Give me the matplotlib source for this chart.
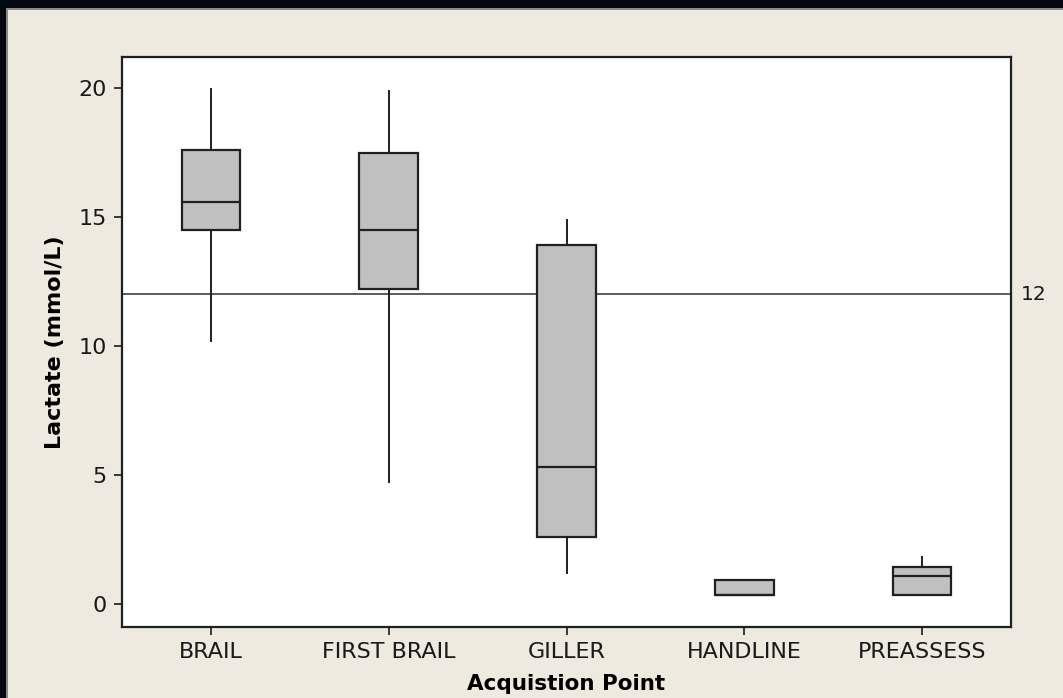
import numpy as np
import matplotlib.pyplot as plt
from matplotlib.patches import Rectangle

# values (Lactate, mmol/L)
groups = ['BRAIL', 'FIRST BRAIL', 'GILLER', 'HANDLINE', 'PREASSESS']
whis_lo = [10.2, 4.75, 1.2, 0.36, 0.36]
q1 = [14.5, 12.2, 2.6, 0.36, 0.36]
med = [15.6, 14.5, 5.3, 0.36, 1.1]
q3 = [17.6, 17.5, 13.9, 0.96, 1.45]
whis_hi = [19.95, 19.9, 14.9, 0.96, 1.83]
ref_value = 12

bg = '#eeeae0'
fig = plt.figure(figsize=(10.63, 6.98), dpi=100, facecolor=bg)

# dark window frame on the top and left edges
fig.patches.append(Rectangle((0, 1 - 8 / 698), 1, 8 / 698, transform=fig.transFigure,
                             facecolor='#050810', edgecolor='none'))
fig.patches.append(Rectangle((0, 0), 6 / 1063, 1, transform=fig.transFigure,
                             facecolor='#050810', edgecolor='none'))
fig.patches.append(Rectangle((6 / 1063, 0), 1.5 / 1063, 1 - 8 / 698, transform=fig.transFigure,
                             facecolor='#8a8a88', edgecolor='none'))
fig.patches.append(Rectangle((6 / 1063, 1 - 9.5 / 698), 1, 1.5 / 698, transform=fig.transFigure,
                             facecolor='#8a8a88', edgecolor='none'))

ax = fig.add_axes([122 / 1063, 71 / 698, 889 / 1063, 570 / 698])
ax.set_facecolor('white')

stats = []
for i, g in enumerate(groups):
    stats.append({'label': g, 'whislo': whis_lo[i], 'q1': q1[i], 'med': med[i],
                  'q3': q3[i], 'whishi': whis_hi[i], 'fliers': []})

pos = np.arange(1, len(groups) + 1)
ax.bxp(stats, positions=pos, widths=0.33, patch_artist=True, showcaps=False,
       boxprops=dict(facecolor='#c0c0c0', edgecolor='#202020', linewidth=1.6),
       medianprops=dict(color='#202020', linewidth=1.6),
       whiskerprops=dict(color='#202020', linewidth=1.4))

ax.axhline(ref_value, color='#404040', linewidth=1.2, zorder=0)
ax.text(1.011, ref_value, str(ref_value), transform=ax.get_yaxis_transform(),
        va='center', ha='left', fontsize=14.5, color='#1a1a1a')

ax.set_xlim(0.5, 5.5)
ax.set_ylim(-0.88, 21.2)
ax.set_yticks([0, 5, 10, 15, 20])
ax.set_xticks(pos)
ax.set_xticklabels(groups)
ax.tick_params(labelsize=16, colors='#1a1a1a', length=5.8, width=1.2, pad=5)
for s in ax.spines.values():
    s.set_linewidth(1.6)
    s.set_color('#202020')

ax.set_ylabel('Lactate (mmol/L)', fontsize=16, fontweight='bold', labelpad=10)
ax.set_xlabel('Acquistion Point', fontsize=15.5, fontweight='bold', labelpad=9)

fig.savefig('out.png', dpi=100, facecolor=bg)
